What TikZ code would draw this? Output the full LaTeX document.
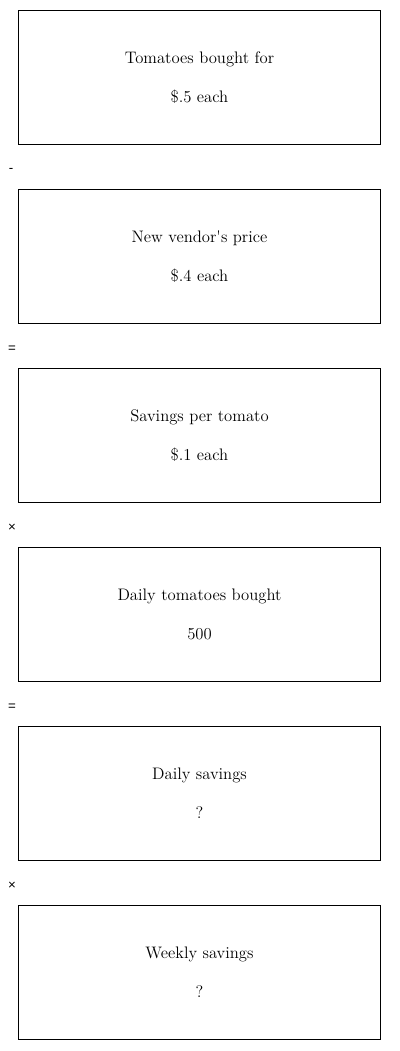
\documentclass[tikz,border=0pt]{standalone}
\usepackage{fontspec}
\newfontfamily\opfont{Liberation Sans}
\begin{document}
\begin{tikzpicture}[x=0.75pt, y=-0.75pt,
    every node/.style={font=\fontsize{12.5}{14}\selectfont},
    stepbox/.style={draw, line width=0.8pt, minimum width=272pt, minimum height=101pt, align=center, inner sep=0pt},
    opsign/.style={font=\opfont\fontsize{10}{12}\selectfont, inner sep=0pt}]

% Lienzo
\useasboundingbox (0,0) rectangle (400,1051);

% Cajas de la cadena de cálculo
\node[stepbox] (bought)   at (199.5,77.5)  {Tomatoes bought for\\[15pt]\$.5 each};
\node[stepbox] (vendor)   at (199.5,256.5) {New vendor\textquotesingle s price\\[15pt]\$.4 each};
\node[stepbox] (saving)   at (199.5,435.5) {Savings per tomato\\[15pt]\$.1 each};
\node[stepbox] (dailyqty) at (199.5,614.5) {Daily tomatoes bought\\[15pt]500};
\node[stepbox] (dailysav) at (199.5,793.5) {Daily savings\\[15pt]?};
\node[stepbox] (weekly)   at (199.5,972.5) {Weekly savings\\[15pt]?};

% Operadores entre cajas
\node[opsign] (opminus) at (11,170) {-};
\node[opsign] (opeqa)   at (12,349) {=};
\node[opsign] (optimesa) at (12,528) {×};
\node[opsign] (opeqb)   at (12,707) {=};
\node[opsign] (optimesb) at (12,886) {×};

\end{tikzpicture}
\end{document}
